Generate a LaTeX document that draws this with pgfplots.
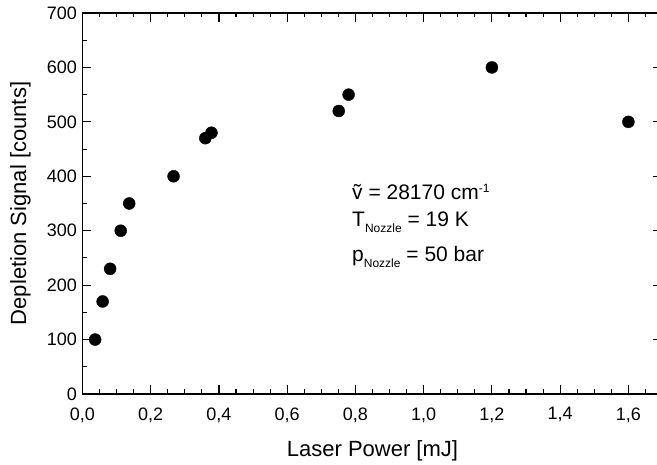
\documentclass[border=0pt]{standalone}
\usepackage{fontspec}
\setmainfont{Liberation Sans}
\usepackage{pgfplots}
\pgfplotsset{compat=1.18}
\begin{document}
\begin{tikzpicture}
\begin{axis}[
  scale only axis,
  width=580pt, height=381pt,
  xmin=0, xmax=1.7, ymin=0, ymax=700,
  xtick distance=0.2, ytick distance=100,
  minor x tick num=3, minor y tick num=1,
  tick align=inside,
  major tick length=9pt, minor tick length=4.5pt,
  axis line style={line width=1.3pt},
  tick style={line width=1.1pt, black},
  xticklabel={\fontsize{18}{21}\selectfont\pgfmathprintnumber[fixed,fixed zerofill,precision=1,use comma,assume math mode=true]{\tick}},
  yticklabel={\fontsize{18}{21}\selectfont\pgfmathprintnumber[fixed,precision=0,assume math mode=true]{\tick}},
  xticklabel shift=10pt, yticklabel shift=2pt,
  xticklabel pos=lower, yticklabel pos=left,
  xlabel={Laser Power [mJ]},
  ylabel={Depletion Signal [counts]},
  label style={font=\fontsize{22}{26}\selectfont},
  x label style={at={(axis description cs:0.5,-0.148)}, anchor=center},
  y label style={at={(axis description cs:-0.107,0.5)}, anchor=center, rotate=0},
  clip=false,
]
\addplot[only marks, mark=*, mark size=6pt, black] coordinates {
  (0.037,100) (0.059,170) (0.081,230) (0.112,300) (0.137,350)
  (0.267,400) (0.360,470) (0.378,480)
  (0.751,520) (0.780,550) (1.200,600) (1.600,500)
};
\node[anchor=base west, font=\fontsize{21}{25}\selectfont, inner sep=0pt] at (axis cs:0.79,357) {\~{v} = 28170 cm\textsuperscript{\fontsize{12}{12}\selectfont -1}};
\node[anchor=base west, font=\fontsize{21}{25}\selectfont, inner sep=0pt] at (axis cs:0.79,307) {T\raisebox{-6pt}{\fontsize{12}{12}\selectfont Nozzle} = 19 K};
\node[anchor=base west, font=\fontsize{21}{25}\selectfont, inner sep=0pt] at (axis cs:0.79,243) {p\raisebox{-6pt}{\fontsize{12}{12}\selectfont Nozzle} = 50 bar};
\end{axis}
\pgfresetboundingbox
\path[use as bounding box] (-82.5pt,-71pt) rectangle (574.5pt,394pt);
\end{tikzpicture}
\end{document}
